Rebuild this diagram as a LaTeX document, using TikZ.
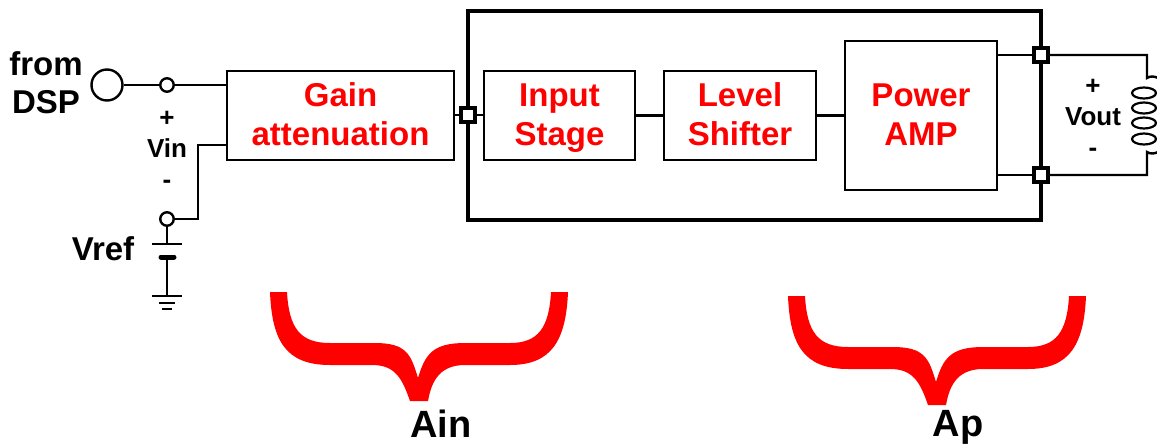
\documentclass[tikz,border=0pt]{standalone}
\usepackage{fontspec}
\setmainfont{Liberation Sans}
\usetikzlibrary{calc, shapes.geometric}
\definecolor{AMPRED}{HTML}{FF0000}
\newcommand{\boxtext}[2]{\rule{0pt}{28pt}#1\\#2\rule[-8pt]{0pt}{8pt}}

\begin{document}
\begin{tikzpicture}[
        x=1pt, y=-1pt,
        box/.style={draw=black, line width=2.8pt, fill=white, align=center, inner sep=0pt,
                    text=AMPRED, font=\fontsize{33}{39}\selectfont\bfseries},
        wire/.style={draw=black, line width=2.4pt},
        port/.style={draw=black, line width=3.8pt, fill=white, minimum size=14.5pt, inner sep=0pt},
        pin/.style={circle, draw=black, line width=2.4pt, fill=white, minimum size=13.5pt, inner sep=0pt},
        loop/.style={ellipse, draw=black, line width=2.2pt, minimum width=24pt, minimum height=11pt, inner sep=0pt},
        lbl/.style={align=center, inner sep=0pt, font=\fontsize{33}{38}\selectfont\bfseries},
        sign/.style={align=center, inner sep=0pt, font=\fontsize{26}{31}\selectfont\bfseries},
        bracefill/.style={fill=AMPRED, draw=none}
      ]
        \useasboundingbox (0,0) rectangle (1157,447);
        % chip outline
        \draw[line width=4pt] (468,11) rectangle (1041,220);
        \node[box, minimum width=227pt, minimum height=89pt] (gain)  at (340.5,115.5) {\boxtext{Gain}{attenuation}};
        \node[box, minimum width=151pt, minimum height=89pt] (input) at (559.5,115.5) {\boxtext{Input}{Stage}};
        \node[box, minimum width=152pt, minimum height=89pt] (level) at (740,115.5)   {\boxtext{Level}{Shifter}};
        \node[box, minimum width=152pt, minimum height=149pt] (power) at (921,115.5)  {\boxtext{Power}{AMP}};
        \node[port] (pin)  at (468,115) {};
        \node[port] (ptop) at (1041,55) {};
        \node[port] (pbot) at (1041,175) {};
        % input side
        \node[circle, draw=black, line width=2.4pt, minimum size=31pt, inner sep=0pt] (dsp) at (107,85) {};
        \node[pin] (vinp) at (167,85)  {};
        \node[pin] (vinm) at (167,219) {};
        \coordinate (bend) at (198,145);
        \coordinate (bat1) at (167,244);
        \coordinate (bat2) at (167,257);
        \coordinate (gnd)  at (167,296);
        \draw[wire] (dsp) -- (vinp);
        \draw[wire] (vinp) -- (vinp -| gain.west);
        \draw[wire] (vinm) -| (bend) -- (bend -| gain.west);
        \draw[wire] (vinm) -- (bat1);
        \draw[wire] (bat2) -- (gnd);
        \draw[wire] (152,244) -- (182,244);
        \draw[line width=5pt, line cap=round] (161,257) -- (174,257);
        \draw[wire] (152,296) -- (182,296);
        \draw[wire] (159,303) -- (175,303);
        \draw[wire] (162,309) -- (172,309);
        % chain
        \draw[wire] (gain.east |- pin) -- (pin);
        \draw[wire] (pin) -- (input.west |- pin);
        \draw[wire] (input) -- (level);
        \draw[wire] (level) -- (power);
        \draw[wire] (power.east |- ptop) -- (ptop);
        \draw[wire] (power.east |- pbot) -- (pbot);
        % coil
        \coordinate (ctop) at (1147,78);
        \coordinate (cbot) at (1147,152);
        \node[loop] (l1) at (1144,93)  {};
        \node[loop] (l2) at (1144,108) {};
        \node[loop] (l3) at (1144,123) {};
        \node[loop] (l4) at (1144,139) {};
        \draw[wire] (ptop) -| (ctop) .. controls (1150,76) and (1154,76) .. (1158,78);
        \draw[wire] (pbot) -| (cbot) .. controls (1150,154) and (1154,154) .. (1158,152);
        % labels
        \node[lbl] (from) at (46,83) {from\\DSP};
        \node[lbl] (vref) at (103,249) {Vref};
        \node[sign] (vin)  at (167,150)  {+\\Vin\\-};
        \node[sign] (vout) at (1093,118) {+\\Vout\\-};
        \node[lbl, font=\fontsize{38}{38}\selectfont\bfseries] (ain) at (441,424) {Ain};
        \node[lbl, font=\fontsize{38}{38}\selectfont\bfseries] (ap)  at (958,427) {Ap};
        % braces
        \foreach \dx/\dy in {0/0, 518/4} {
          \begin{scope}[shift={(\dx,\dy)}]
            \fill[bracefill] (270,292) .. controls (272,340) and (285,365) .. (330,365)
              -- (372,365) .. controls (395,365) and (402,378) .. (410,401)
              -- (428,401) .. controls (431,385) and (437,365) .. (465,365)
              -- (510,365) .. controls (552,365) and (566,340) .. (568,292)
              -- (551,292) .. controls (549,328) and (538,343) .. (510,343)
              -- (465,343) .. controls (432,343) and (425,355) .. (418,378)
              .. controls (411,355) and (407,343) .. (375,343)
              -- (330,343) .. controls (300,343) and (289,328) .. (287,292) -- cycle;
          \end{scope}
        }
      \end{tikzpicture}
\end{document}
